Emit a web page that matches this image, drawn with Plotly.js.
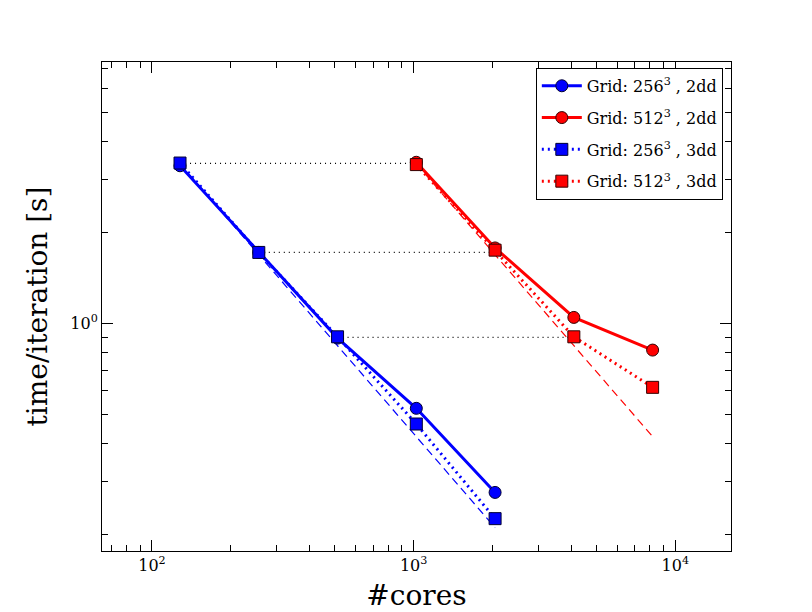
<!DOCTYPE html>
<html>
<head>
<meta charset="utf-8">
<script src="https://cdn.plot.ly/plotly-3.0.1.min.js"></script>
<style>html,body{margin:0;padding:0;background:#fff;}#chart{width:812px;height:612px;}</style>
</head>
<body>
<div id="chart"></div>
<script>
// Data
var coresSmall = [128, 256, 512, 1024, 2048];
var coresLarge = [1024, 2048, 4096, 8192];
var time256_2dd = [3.33, 1.72, 0.895, 0.524, 0.276];
var time512_2dd = [3.42, 1.78, 1.048, 0.817];
var time256_3dd = [3.40, 1.72, 0.904, 0.465, 0.226];
var time512_3dd = [3.36, 1.75, 0.904, 0.615];
// ideal-scaling guides
var idealCores256 = [128, 2048];
var idealTime256 = [3.38, 0.211];
var idealCores512 = [1024, 8192];
var idealTime512 = [3.38, 0.4225];
// horizontal reference (dotted black) lines
var refStart = [128, 256, 512];
var refEnd = [1024, 2048, 4096];
var refTime = [3.39, 1.72, 0.90];

var xTickVals = [100, 1000, 10000];
var xTickText = ['10<sup>2</sup>', '10<sup>3</sup>', '10<sup>4</sup>'];
var yTickVals = [1];
var yTickText = ['10<sup>0</sup>'];
var xMinor = [70, 80, 90, 200, 300, 400, 500, 600, 700, 800, 900, 2000, 3000, 4000, 5000, 6000, 7000, 8000, 9000];
var yMinor = [0.2, 0.3, 0.4, 0.5, 0.6, 0.7, 0.8, 0.9, 2, 3, 4, 5, 6, 7];

var BLUE = '#0000ff', RED = '#ff0000';
var traces = [];

for (var i = 0; i < refTime.length; i++) {
  traces.push({x: [refStart[i], refEnd[i]], y: [refTime[i], refTime[i]], mode: 'lines',
    line: {color: '#000', width: 1.2, dash: '1px,4px'}, showlegend: false, hoverinfo: 'skip'});
}
traces.push({x: idealCores256, y: idealTime256, mode: 'lines', line: {color: BLUE, width: 1.2, dash: '8px,5px'}, showlegend: false});
traces.push({x: idealCores512, y: idealTime512, mode: 'lines', line: {color: RED, width: 1.2, dash: '8px,5px'}, showlegend: false});

traces.push({x: coresSmall, y: time256_2dd, mode: 'lines+markers', name: 'Grid: 256<sup>3</sup> , 2dd', legendgroup: 'a',
  line: {color: BLUE, width: 3}, marker: {symbol: 'circle', size: 12, color: BLUE, line: {color: '#000033', width: 1}}});
traces.push({x: coresLarge, y: time512_2dd, mode: 'lines+markers', name: 'Grid: 512<sup>3</sup> , 2dd', legendgroup: 'b',
  line: {color: RED, width: 3}, marker: {symbol: 'circle', size: 12, color: RED, line: {color: '#330000', width: 1}}});
traces.push({x: coresSmall, y: time256_3dd, mode: 'lines+markers', name: 'Grid: 256<sup>3</sup> , 3dd', legendgroup: 'c',
  line: {color: BLUE, width: 3, dash: '2px,4px'}, marker: {symbol: 'square', size: 12, color: BLUE, line: {color: '#000033', width: 1}}});
traces.push({x: coresLarge, y: time512_3dd, mode: 'lines+markers', name: 'Grid: 512<sup>3</sup> , 3dd', legendgroup: 'd',
  line: {color: RED, width: 3, dash: '2px,4px'}, marker: {symbol: 'square', size: 12, color: RED, line: {color: '#330000', width: 1}}});

var serif = 'DejaVu Serif, serif';
var layout = {
  width: 812, height: 612,
  margin: {l: 102, r: 81, t: 62, b: 61},
  paper_bgcolor: '#fff', plot_bgcolor: '#fff',
  font: {family: serif, color: '#000'},
  showlegend: true,
  legend: {x: 0.987, y: 0.988, xanchor: 'right', yanchor: 'top', bordercolor: '#000', borderwidth: 1,
    bgcolor: '#fff', font: {family: serif, size: 16, color: '#000'}, itemwidth: 40,
    traceorder: 'grouped', tracegroupgap: 8},
  xaxis: {type: 'log', range: [1.809, 4.213], showgrid: false, zeroline: false,
    showline: true, linecolor: '#000', linewidth: 1, mirror: 'allticks',
    ticks: 'inside', ticklen: 11, tickcolor: '#000', tickwidth: 1,
    tickmode: 'array', tickvals: xTickVals, ticktext: xTickText,
    tickfont: {family: serif, size: 16},
    minor: {tickmode: 'array', tickvals: xMinor, ticks: 'inside', ticklen: 6, tickcolor: '#000', tickwidth: 1, showgrid: false},
    title: {text: '#cores', font: {family: serif, size: 28}, standoff: 12}},
  yaxis: {type: 'log', range: [-0.753, 0.866], showgrid: false, zeroline: false,
    showline: true, linecolor: '#000', linewidth: 1, mirror: 'allticks',
    ticks: 'inside', ticklen: 11, tickcolor: '#000', tickwidth: 1,
    tickmode: 'array', tickvals: yTickVals, ticktext: yTickText,
    tickfont: {family: serif, size: 16},
    minor: {tickmode: 'array', tickvals: yMinor, ticks: 'inside', ticklen: 6, tickcolor: '#000', tickwidth: 1, showgrid: false},
    title: {text: 'time/iteration [s]', font: {family: serif, size: 28}, standoff: 14}}
};
Plotly.newPlot('chart', traces, layout, {displayModeBar: false, staticPlot: true});
</script>
</body>
</html>
